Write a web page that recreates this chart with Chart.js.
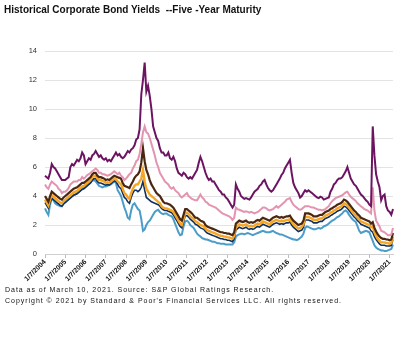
<!DOCTYPE html>
<html>
<head>
<meta charset="utf-8">
<script src="https://cdn.jsdelivr.net/npm/chart.js@4.4.1/dist/chart.umd.min.js"></script>
<style>
  html, body { margin: 0; padding: 0; background: #fff; }
  #wrap { position: relative; width: 420px; height: 343px; font-family: "Liberation Sans", Arial, sans-serif; }
  #title { position: absolute; left: 4px; top: 4px; font-weight: bold; font-size: 10px; color: #111; white-space: pre; }
  .note { position: absolute; left: 5px; font-size: 7px; letter-spacing: 0.97px; color: #111; white-space: nowrap; }
  canvas { position: absolute; left: 0; top: 0; }
</style>
</head>
<body>
<div id="wrap">
  <canvas id="myChart" width="420" height="343"></canvas>
  <div id="title">Historical Corporate Bond Yields  --Five -Year Maturity</div>
  <div class="note" style="top:286px">Data as of March 10, 2021. Source: S&amp;P Global Ratings Research.</div>
  <div class="note" style="top:297px">Copyright © 2021 by Standard &amp; Poor's Financial Services LLC. All rights reserved.</div>
</div>
<script>
// monthly readings, Jan 2004 .. Mar 2021
const firstYear = 2004;
const lastYear = 2021;
const lastMonth = 3;

const purple = [
  5.4, 5.3, 5.2, 5.6, 6.2, 6.0, 5.9, 5.7, 5.5, 5.3, 5.1, 5.1,
  5.1, 5.2, 5.3, 6.0, 6.2, 6.1, 6.3, 6.5, 6.4, 6.6, 7.0, 6.8,
  6.2, 6.4, 6.6, 6.5, 6.8, 6.9, 7.1, 6.9, 6.7, 6.8, 6.6, 6.5,
  6.6, 6.4, 6.5, 6.4, 6.6, 6.8, 7.0, 6.8, 6.9, 6.7, 6.6, 6.7,
  6.9, 7.1, 7.0, 7.2, 7.3, 7.5, 7.9, 8.0, 8.6, 11.0, 12.0, 13.2,
  11.2, 11.6, 10.9, 10.0, 8.8, 8.4, 8.0, 7.8, 7.3, 7.0, 7.0, 6.8,
  6.8, 7.0, 6.6, 6.5, 6.7, 6.4, 5.9, 5.6, 5.5, 5.4, 5.6, 5.5,
  5.3, 5.2, 5.3, 5.2, 5.4, 5.6, 5.8, 6.3, 6.7, 6.4, 6.0, 5.6,
  5.3, 5.1, 5.2, 5.0, 5.0, 4.8, 4.6, 4.4, 4.3, 4.1, 4.1, 3.9,
  3.8, 3.6, 3.4, 3.2, 3.4, 4.8, 4.5, 4.3, 4.0, 3.9, 3.8, 3.85,
  3.8, 3.75, 3.9, 4.1, 4.3, 4.4, 4.5, 4.7, 4.8, 5.0, 5.1, 4.8,
  4.55, 4.4, 4.3, 4.4, 4.6, 4.8, 5.0, 5.2, 5.45, 5.6, 5.9, 6.1,
  6.3, 6.5, 5.6, 4.9, 4.6, 4.4, 4.2, 3.9, 4.0, 4.2, 4.4, 4.3,
  4.4, 4.3, 4.2, 4.1, 4.0, 3.9, 3.85, 3.95, 3.9, 3.75, 3.8, 3.85,
  3.9, 4.3, 4.5, 4.8, 4.9, 5.1, 5.2, 5.2, 5.3, 5.5, 5.7, 6.0,
  5.6, 5.2, 5.0, 4.8, 4.7, 4.5, 4.3, 4.1, 4.0, 3.85, 3.7, 3.6,
  3.4, 3.3, 8.8, 6.8, 5.5, 5.0, 4.6, 3.7, 4.0, 4.1, 3.3, 3.0,
  2.9, 2.7, 3.1
];

const pink = [
  4.8, 4.6, 4.5, 4.8, 5.0, 4.9, 4.8, 4.7, 4.5, 4.4, 4.2, 4.3,
  4.3, 4.4, 4.55, 4.8, 4.9, 5.0, 5.0, 5.0, 5.1, 5.1, 5.3, 5.2,
  5.3, 5.45, 5.5, 5.6, 5.7, 5.8, 5.9, 5.8, 5.6, 5.6, 5.5, 5.5,
  5.45, 5.4, 5.45, 5.5, 5.6, 5.7, 5.6, 5.5, 5.6, 5.4, 5.3, 5.1,
  5.2, 5.35, 5.5, 5.6, 5.9, 6.1, 6.4, 6.5, 6.9, 7.6, 8.4, 8.8,
  8.4, 8.3, 8.0, 7.6, 7.2, 6.8, 6.3, 6.0, 5.6, 5.4, 5.2, 5.0,
  4.9, 4.8, 4.6, 4.5, 4.6, 4.4, 4.3, 4.2, 4.0, 3.9, 4.0, 4.1,
  4.2, 4.0, 3.9, 3.8, 3.75, 3.7, 3.7, 3.9, 4.1, 3.9, 3.8, 3.6,
  3.55, 3.4, 3.35, 3.3, 3.25, 3.2, 3.1, 3.0, 2.9, 2.8, 2.75, 2.7,
  2.65, 2.6, 2.5, 2.35, 2.5, 3.2, 3.1, 3.05, 3.0, 2.95, 2.9, 2.95,
  2.9, 2.85, 2.9, 2.85, 2.8, 2.85, 2.9, 3.0, 3.1, 3.2, 3.2, 3.15,
  3.05, 3.0, 3.05, 3.1, 3.2, 3.3, 3.2, 3.3, 3.4, 3.5, 3.6, 3.75,
  3.8, 3.85, 3.6, 3.4, 3.3, 3.2, 3.1, 3.05, 3.1, 3.2, 3.3, 3.3,
  3.3, 3.25, 3.2, 3.2, 3.15, 3.1, 3.05, 3.05, 3.0, 3.05, 3.1, 3.2,
  3.3, 3.5, 3.65, 3.75, 3.85, 3.9, 3.95, 4.0, 4.05, 4.15, 4.25, 4.3,
  4.1, 3.95, 3.85, 3.75, 3.65, 3.5, 3.4, 3.3, 3.2, 3.1, 3.05, 3.0,
  2.9, 2.8, 4.6, 3.0, 2.3, 2.1, 1.9, 1.6, 1.55, 1.5, 1.4, 1.3,
  1.3, 1.35, 1.8
];

const brown = [
  4.0, 3.8, 3.6, 4.0, 4.3, 4.2, 4.1, 4.0, 3.9, 3.8, 3.75, 3.9,
  4.0, 4.1, 4.2, 4.3, 4.4, 4.5, 4.55, 4.6, 4.7, 4.8, 4.9, 4.9,
  5.0, 5.1, 5.2, 5.3, 5.5, 5.6, 5.6, 5.4, 5.3, 5.3, 5.25, 5.2,
  5.1, 5.15, 5.1, 5.2, 5.3, 5.4, 5.35, 5.3, 5.25, 5.2, 4.9, 4.7,
  4.65, 4.6, 4.55, 4.8, 5.0, 5.25, 5.4, 5.5, 5.7, 6.3, 7.3, 6.4,
  5.8, 5.5, 5.1, 4.8, 4.6, 4.4, 4.2, 4.1, 4.0, 3.8, 3.6, 3.5,
  3.5, 3.45, 3.4, 3.3, 3.2, 3.0, 2.8, 2.6, 2.4, 2.3, 2.7, 3.1,
  3.1, 3.0, 2.9, 2.8, 2.65, 2.5, 2.5, 2.4, 2.3, 2.25, 2.2, 2.0,
  1.9, 1.85, 1.8, 1.75, 1.7, 1.65, 1.6, 1.55, 1.5, 1.5, 1.45, 1.45,
  1.4, 1.4, 1.35, 1.3, 1.5, 2.1, 2.2, 2.3, 2.25, 2.2, 2.25, 2.3,
  2.2, 2.15, 2.2, 2.15, 2.2, 2.3, 2.35, 2.3, 2.4, 2.5, 2.45, 2.4,
  2.35, 2.3, 2.4, 2.5, 2.55, 2.6, 2.55, 2.5, 2.55, 2.5, 2.55, 2.6,
  2.6, 2.65, 2.45, 2.3, 2.2, 2.1, 2.0, 2.05, 2.1, 2.3, 2.8, 2.8,
  2.8, 2.75, 2.7, 2.6, 2.6, 2.6, 2.65, 2.7, 2.7, 2.8, 2.9, 2.95,
  3.0, 3.1, 3.15, 3.25, 3.3, 3.4, 3.45, 3.5, 3.6, 3.75, 3.7, 3.6,
  3.45, 3.3, 3.15, 3.0, 2.9, 2.75, 2.65, 2.5, 2.45, 2.4, 2.35, 2.3,
  2.25, 2.1, 2.2, 1.8, 1.55, 1.35, 1.2, 1.1, 1.05, 1.05, 1.0, 1.0,
  0.95, 1.0, 1.45
];

const orange = [
  3.75, 3.55, 3.35, 3.75, 4.05, 3.95, 3.85, 3.75, 3.65, 3.55, 3.5, 3.65,
  3.75, 3.85, 3.95, 4.05, 4.15, 4.25, 4.3, 4.35, 4.45, 4.55, 4.65, 4.7,
  4.8, 4.9, 5.0, 5.1, 5.3, 5.4, 5.4, 5.2, 5.1, 5.1, 5.05, 5.0,
  4.9, 4.95, 4.9, 5.0, 5.1, 5.2, 5.15, 5.0, 4.9, 4.8, 4.5, 4.2,
  4.1, 3.9, 3.8, 4.2, 4.5, 4.7, 4.8, 4.8, 5.0, 5.2, 5.8, 5.0,
  4.5, 4.3, 4.1, 4.0, 3.9, 3.8, 3.7, 3.6, 3.5, 3.3, 3.2, 3.15,
  3.15, 3.1, 3.05, 3.0, 2.9, 2.7, 2.5, 2.3, 2.1, 2.0, 2.4, 2.85,
  2.85, 2.75, 2.6, 2.5, 2.4, 2.25, 2.2, 2.1, 2.0, 1.95, 1.9, 1.75,
  1.65, 1.6, 1.55, 1.5, 1.45, 1.4, 1.35, 1.3, 1.25, 1.25, 1.2, 1.2,
  1.15, 1.15, 1.1, 1.05, 1.25, 1.85, 1.95, 2.05, 2.0, 1.95, 2.0, 2.05,
  1.95, 1.9, 1.95, 1.9, 1.95, 2.05, 2.1, 2.05, 2.15, 2.25, 2.2, 2.15,
  2.1, 2.05, 2.15, 2.25, 2.3, 2.35, 2.3, 2.25, 2.3, 2.25, 2.3, 2.35,
  2.35, 2.4, 2.2, 2.05, 1.95, 1.85, 1.75, 1.8, 1.85, 2.05, 2.55, 2.55,
  2.55, 2.5, 2.45, 2.35, 2.35, 2.35, 2.4, 2.45, 2.45, 2.55, 2.65, 2.7,
  2.75, 2.85, 2.9, 3.0, 3.05, 3.15, 3.2, 3.25, 3.35, 3.5, 3.45, 3.35,
  3.2, 3.05, 2.9, 2.75, 2.65, 2.5, 2.4, 2.25, 2.2, 2.15, 2.1, 2.05,
  2.0, 1.85, 1.9, 1.5, 1.25, 1.05, 0.9, 0.8, 0.8, 0.8, 0.75, 0.75,
  0.7, 0.75, 1.2
];

const navy = [
  3.55, 3.35, 3.15, 3.55, 3.85, 3.75, 3.65, 3.55, 3.45, 3.35, 3.3, 3.45,
  3.55, 3.65, 3.75, 3.85, 3.95, 4.05, 4.1, 4.15, 4.25, 4.35, 4.45, 4.5,
  4.6, 4.7, 4.8, 4.9, 5.1, 5.2, 5.2, 5.0, 4.9, 4.9, 4.85, 4.8,
  4.75, 4.8, 4.75, 4.85, 4.95, 5.05, 5.0, 4.8, 4.6, 4.5, 4.2, 3.9,
  3.8, 3.6, 3.5, 3.9, 4.2, 4.4, 4.4, 4.3, 4.4, 4.6, 5.0, 4.4,
  3.9, 3.8, 3.7, 3.6, 3.55, 3.5, 3.45, 3.4, 3.3, 3.15, 3.05, 3.0,
  3.0, 2.95, 2.9, 2.85, 2.7, 2.5, 2.3, 2.1, 1.9, 1.8, 2.2, 2.65,
  2.65, 2.55, 2.4, 2.3, 2.2, 2.05, 2.0, 1.9, 1.8, 1.75, 1.7, 1.55,
  1.45, 1.4, 1.35, 1.3, 1.25, 1.2, 1.15, 1.1, 1.05, 1.05, 1.0, 1.0,
  0.95, 0.95, 0.9, 0.85, 1.05, 1.65, 1.75, 1.85, 1.8, 1.75, 1.8, 1.85,
  1.75, 1.7, 1.75, 1.7, 1.75, 1.85, 1.9, 1.85, 1.95, 2.05, 2.0, 1.95,
  1.9, 1.85, 1.95, 2.05, 2.1, 2.15, 2.1, 2.05, 2.1, 2.05, 2.1, 2.15,
  2.15, 2.2, 2.0, 1.85, 1.75, 1.65, 1.55, 1.6, 1.65, 1.85, 2.35, 2.35,
  2.35, 2.3, 2.25, 2.15, 2.15, 2.15, 2.2, 2.25, 2.25, 2.35, 2.45, 2.5,
  2.55, 2.65, 2.7, 2.8, 2.85, 2.95, 3.0, 3.05, 3.15, 3.3, 3.25, 3.15,
  3.0, 2.85, 2.7, 2.55, 2.45, 2.3, 2.2, 2.05, 2.0, 1.95, 1.9, 1.85,
  1.8, 1.6, 1.5, 1.2, 1.0, 0.85, 0.7, 0.6, 0.6, 0.6, 0.55, 0.55,
  0.55, 0.6, 1.0
];

const blue = [
  3.15, 2.9, 2.7, 3.4, 3.85, 3.7, 3.5, 3.4, 3.35, 3.3, 3.3, 3.5,
  3.6, 3.75, 3.8, 3.9, 4.0, 4.1, 4.1, 4.2, 4.3, 4.4, 4.5, 4.6,
  4.7, 4.8, 4.85, 4.95, 5.05, 5.1, 5.0, 4.85, 4.7, 4.65, 4.6, 4.65,
  4.65, 4.7, 4.75, 4.8, 4.9, 5.0, 4.9, 4.4, 4.2, 4.0, 3.6, 3.2,
  2.9, 2.5, 2.4, 3.0, 3.4, 3.5, 3.3, 3.1, 3.0, 2.4, 1.6, 1.7,
  2.0, 2.2, 2.3, 2.5, 2.7, 2.9, 3.0, 3.05, 2.9, 2.8, 2.75, 2.8,
  2.8, 2.7, 2.65, 2.6, 2.4, 2.1, 1.8, 1.5, 1.3, 1.35, 1.9, 2.25,
  2.3, 2.2, 2.0, 1.9, 1.8, 1.6, 1.4, 1.3, 1.2, 1.1, 1.05, 1.0,
  1.0, 0.95, 0.9, 0.85, 0.85, 0.8, 0.75, 0.75, 0.7, 0.7, 0.7, 0.65,
  0.65, 0.65, 0.65, 0.65, 0.8, 1.2, 1.3, 1.35, 1.4, 1.4, 1.35, 1.4,
  1.45, 1.4, 1.35, 1.3, 1.35, 1.4, 1.45, 1.5, 1.55, 1.6, 1.55, 1.5,
  1.5, 1.5, 1.55, 1.6, 1.5, 1.45, 1.4, 1.35, 1.35, 1.3, 1.25, 1.2,
  1.15, 1.1, 1.05, 1.0, 1.0, 0.95, 1.0, 1.1, 1.2, 1.4, 1.8, 1.9,
  1.85, 1.8, 1.75, 1.7, 1.7, 1.75, 1.8, 1.75, 1.8, 1.9, 1.95, 2.0,
  2.1, 2.2, 2.3, 2.35, 2.45, 2.55, 2.6, 2.7, 2.8, 2.95, 3.0, 2.9,
  2.7, 2.55, 2.4, 2.3, 2.2, 1.9, 1.6, 1.45, 1.5, 1.55, 1.6, 1.55,
  1.5, 1.2, 0.9, 0.6, 0.45, 0.35, 0.3, 0.25, 0.25, 0.2, 0.2, 0.25,
  0.3, 0.35, 0.65
];

const yTicks = [0, 2, 4, 6, 8, 10, 12, 14];

// month labels; only the first week of January gets printed on the axis
const labels = [];
for (let y = firstYear; y <= lastYear; y++) {
  const months = y === lastYear ? lastMonth : 12;
  for (let m = 1; m <= months; m++) {
    labels.push(m + '/7/' + y);
  }
}

const series = [
  { data: purple, color: '#6c1462', width: 2 },
  { data: pink,   color: '#e394b0', width: 2 },
  { data: brown,  color: '#4b2610', width: 2.2 },
  { data: orange, color: '#f6a623', width: 2.4 },
  { data: navy,   color: '#10305e', width: 1.6 },
  { data: blue,   color: '#4b9cc8', width: 2 }
];

const ctx = document.getElementById('myChart').getContext('2d');
new Chart(ctx, {
  type: 'line',
  data: {
    labels: labels,
    datasets: series.map(s => ({
      data: s.data,
      borderColor: s.color,
      borderWidth: s.width,
      pointRadius: 0,
      tension: 0,
      fill: false
    }))
  },
  options: {
    responsive: false,
    animation: false,
    layout: { padding: { top: 51, right: 27, left: 0, bottom: 0 } },
    plugins: { legend: { display: false }, tooltip: { enabled: false } },
    scales: {
      x: {
        type: 'category',
        offset: false,
        afterFit: s => { s.height = 89; },
        grid: { display: true, drawOnChartArea: false, drawTicks: true, tickLength: 4, color: '#bdbdbd' },
        border: { display: true, color: '#cfcfcf' },
        ticks: {
          autoSkip: false,
          minRotation: 45,
          maxRotation: 45,
          padding: 0,
          color: '#111',
          font: { family: '"Liberation Sans", Arial, sans-serif', size: 7, weight: 'bold' },
          callback: function (val, i) {
            const l = labels[i];
            return l.startsWith('1/7/') ? l : null;
          }
        }
      },
      y: {
        min: 0,
        max: 14,
        afterFit: s => { s.width = 45; },
        afterBuildTicks: s => { s.ticks = yTicks.map(v => ({ value: v })); },
        grid: { color: '#e3e3e3', drawTicks: false },
        border: { display: false },
        ticks: {
          padding: 8,
          color: '#333',
          font: { family: '"Liberation Sans", Arial, sans-serif', size: 7.5 }
        }
      }
    }
  }
});
</script>
</body>
</html>
